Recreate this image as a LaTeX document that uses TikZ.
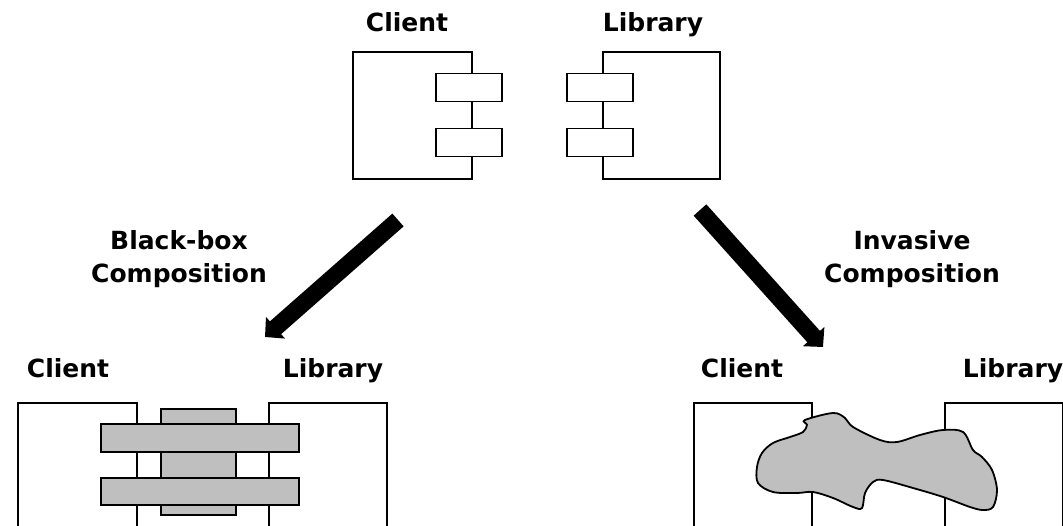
\documentclass[tikz,border=0pt]{standalone}
\usepackage{fontspec}
\setmainfont{DejaVu Sans}
\usetikzlibrary{arrows.meta,positioning}
\tikzset{
    %Define style for component boxes
    comp/.style={
           rectangle,
           draw=black, line width=1.8pt,
           fill=white,
           inner sep=0pt},
    % Small interface boxes
    port/.style={
           comp,
           minimum width=66pt,
           minimum height=28pt},
    % Grey glue parts
    part/.style={
           draw=black, line width=1.8pt,
           fill=black!25,
           inner sep=0pt},
    % Labels
    lbl/.style={
           font=\fontsize{25}{33}\selectfont\bfseries,
           align=center,
           inner sep=0pt},
    % Thick composition arrow
    pil/.style={
           line width=17pt,
           -{Triangle[width=28pt,length=14pt]}}
}

\begin{document}
\begin{tikzpicture}[x=1pt,y=-1pt]
    \clip (0,0) rectangle (1063,526);
    % top: separate components
    \node[comp, minimum width=119pt, minimum height=127pt] (client) at (412.5,115.5) {};
    \node[port] (cport1) at (469,87.5) {};
    \node[port] (cport2) at (469,142.5) {};
    \node[comp, minimum width=117pt, minimum height=127pt] (lib) at (661.5,115.5) {};
    \node[port] (lport1) at (600,87.5) {};
    \node[port] (lport2) at (600,142.5) {};
    \node[lbl, anchor=base] (clientlbl) at (407,32) {Client};
    \node[lbl, anchor=base] (liblbl) at (653,32) {Library};

    % arrows
    \coordinate (bbtail) at (398,220);
    \coordinate (bbtip) at (265,337);
    \draw[pil] (bbtail) -- (bbtip);
    \coordinate (invtail) at (700,210);
    \coordinate (invtip) at (823,347);
    \draw[pil] (invtail) -- (invtip);
    \node[lbl] (bblbl) at (179,259) {Black-box\\Composition};
    \node[lbl] (invlbl) at (912,259) {Invasive\\Composition};

    % black-box composition
    \node[comp, anchor=north west, minimum width=119pt, minimum height=140pt] (bbclient) at (17,402) {};
    \node[comp, anchor=north west, minimum width=118pt, minimum height=140pt] (bblib) at (268,402) {};
    \node[part, anchor=north west, minimum width=75pt, minimum height=106pt] (glue) at (160,408) {};
    \node[part, anchor=north west, minimum width=198pt, minimum height=28pt] (bar1) at (100,423) {};
    \node[part, anchor=north west, minimum width=198pt, minimum height=27pt] (bar2) at (100,477) {};
    \node[lbl, anchor=base] (bbclientlbl) at (68,378) {Client};
    \node[lbl, anchor=base] (bbliblbl) at (333,378) {Library};

    % invasive composition
    \node[comp, anchor=north west, minimum width=118pt, minimum height=140pt] (invclient) at (693,402) {};
    \node[comp, anchor=north west, minimum width=118pt, minimum height=140pt] (invlib) at (944,402) {};
    \draw[part] plot[smooth cycle, tension=0.55] coordinates {
        (805,420) (833,413) (845,418) (853,427) (880,440) (897,442)
        (920,435) (943,430) (963,432) (973,450) (982,457) (992,470)
        (997,490) (993,507) (983,510) (970,507) (943,497) (913,488)
        (883,480) (873,482) (865,493) (862,508) (853,507) (833,498)
        (813,492) (797,493) (773,492) (758,483) (757,467) (762,453)
        (773,443) (790,437) (803,432) (807,425)};
    \node[lbl, anchor=base] (invclientlbl) at (742,378) {Client};
    \node[lbl, anchor=base] (invliblbl) at (1013,378) {Library};
\end{tikzpicture}
\end{document}
